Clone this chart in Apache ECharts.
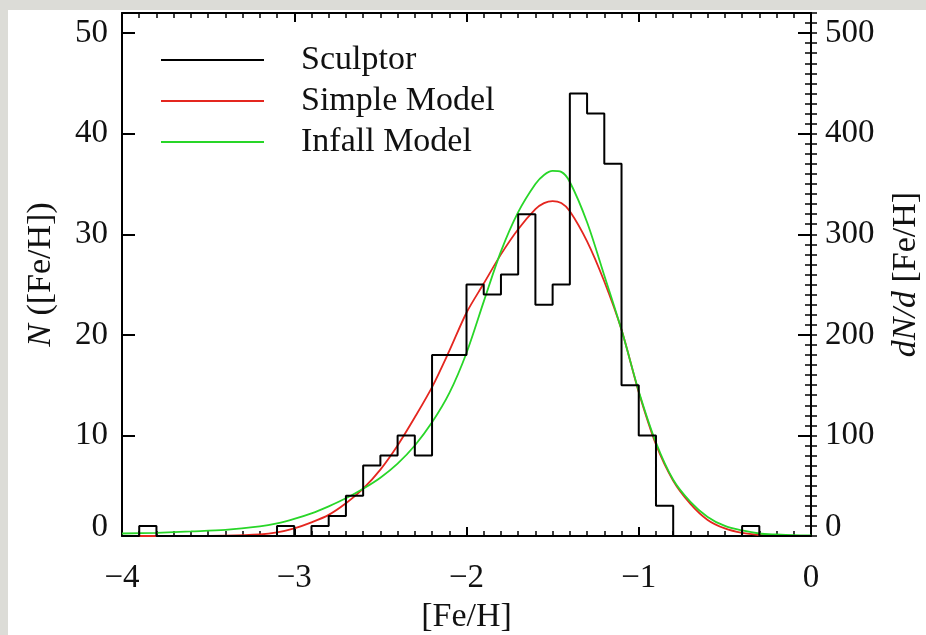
<!DOCTYPE html>
<html><head><meta charset="utf-8">
<script src="https://cdn.jsdelivr.net/npm/echarts@6/dist/echarts.min.js"></script>
<style>
html,body{margin:0;padding:0;background:#dcdcd7;overflow:hidden;}
#panel{position:absolute;left:8px;top:10px;width:918px;height:625px;background:#fff;}
#chart{position:absolute;left:0;top:0;width:926px;height:635px;}
</style></head><body>
<div id="panel"></div><div id="chart"></div>
<script>
// Histogram: left edges of the 0.1-dex bins, plus the closing edge at 0.0
const binLeft = [-4.0,-3.9,-3.8,-3.7,-3.6,-3.5,-3.4,-3.3,-3.2,-3.1,-3.0,-2.9,-2.8,-2.7,-2.6,-2.5,-2.4,-2.3,-2.2,-2.1,
                 -2.0,-1.9,-1.8,-1.7,-1.6,-1.5,-1.4,-1.3,-1.2,-1.1,-1.0,-0.9,-0.8,-0.7,-0.6,-0.5,-0.4,-0.3,-0.2,-0.1];
const closingEdge = 0.0;
const sculptorCounts = [0,1,0,0,0,0,0,0,0,1,0,1,2,4,7,8,10,8,18,18,
                        25,24,26,32,23,25,44,42,37,15,10,3,0,0,0,0,1,0,0,0];
// Model curves (in units of the left axis)
const modelFeH = [-4.0,-3.8,-3.6,-3.4,-3.2,-3.1,-3.0,-2.9,-2.8,-2.7,-2.6,-2.5,-2.4,-2.3,-2.2,-2.1,-2.0,-1.9,-1.8,-1.7,
                  -1.6,-1.55,-1.5,-1.45,-1.4,-1.3,-1.2,-1.1,-1.0,-0.9,-0.8,-0.7,-0.6,-0.5,-0.4,-0.3,-0.2,-0.1,0.0];
const simpleModel = [0.0,0.0,0.01,0.03,0.15,0.35,0.75,1.35,2.1,3.25,4.7,6.6,9.0,11.8,14.8,18.4,22.2,25.1,28.0,30.5,
                     32.5,33.1,33.3,33.1,32.3,29.3,25.3,20.5,14.3,9.1,5.5,3.2,1.6,0.75,0.3,0.1,0.03,0.01,0.0];
const infallModel = [0.25,0.32,0.45,0.6,0.95,1.25,1.7,2.25,2.95,3.75,4.7,5.8,7.2,9.0,11.3,14.2,18.2,23.3,28.3,32.2,
                     35.0,35.9,36.3,36.2,35.2,31.2,25.9,20.5,14.4,9.3,5.6,3.4,1.9,1.0,0.55,0.25,0.15,0.08,0.05];
const xTicks = [-4,-3,-2,-1,0];
const leftTicks = [0,10,20,30,40,50];
const rightTicks = [0,100,200,300,400,500];

const FONT = "'Liberation Serif','Times New Roman',serif";
const TXT = '#111';
const histData = binLeft.map((x,i)=>[x, sculptorCounts[i]]).concat([[closingEdge, 0]]);
const simpleData = modelFeH.map((x,i)=>[x, simpleModel[i]]);
const infallData = modelFeH.map((x,i)=>[x, infallModel[i]]);

const lineBlack = {color:'#000', width:2};
const zeroRich = {z:{fontFamily:FONT,fontSize:33,color:TXT,padding:[0,0,18,0]}};
function fmtY(list){ return v => { if(list.indexOf(v)<0) return ''; return v===0 ? '{z|0}' : String(v); }; }

const chart = echarts.init(document.getElementById('chart'), null, {renderer:'canvas'});
chart.setOption({
  animation:false,
  backgroundColor:'transparent',
  grid:{left:122, right:115, top:13, bottom:99, containLabel:false, outerBoundsMode:'none'},
  legend:{
    left:160, top:43, orient:'vertical', padding:0,
    itemWidth:103, itemHeight:14, itemGap:7,
    data:['Sculptor','Simple Model','Infall Model'],
    itemStyle:{color:'rgba(0,0,0,0)', borderColor:'rgba(0,0,0,0)', borderWidth:0},
    textStyle:{fontFamily:FONT, fontSize:34, color:TXT, lineHeight:34, padding:[0,0,0,32]}
  },
  xAxis:[
    {type:'value', min:-4, max:0, interval:1, position:'bottom',
     axisLine:{onZero:false, lineStyle:lineBlack},
     axisTick:{inside:true, length:9, lineStyle:lineBlack},
     minorTick:{show:true, splitNumber:10, length:5, lineStyle:{color:'#000', width:1.5}},
     splitLine:{show:false},
     axisLabel:{margin:26, fontFamily:FONT, fontSize:33, color:TXT,
       formatter:v=> xTicks.indexOf(v)<0 ? '' : (v<0 ? '\u2212'+Math.abs(v) : String(v))},
     name:'[Fe/H]', nameLocation:'middle', nameGap:61,
     nameTextStyle:{fontFamily:FONT, fontSize:34, color:TXT}},
    {type:'value', min:-4, max:0, interval:1, position:'top',
     axisLine:{onZero:false, lineStyle:lineBlack},
     axisTick:{inside:true, length:9, lineStyle:lineBlack},
     minorTick:{show:true, splitNumber:10, length:5, lineStyle:{color:'#000', width:1.5}},
     splitLine:{show:false}, axisLabel:{show:false}}
  ],
  yAxis:[
    {type:'value', min:0, max:52, interval:10, position:'left',
     axisLine:{show:true, onZero:false, lineStyle:lineBlack},
     axisTick:{inside:true, length:13, lineStyle:lineBlack},
     splitLine:{show:false},
     axisLabel:{margin:14, fontFamily:FONT, fontSize:33, color:TXT, formatter:fmtY(leftTicks), rich:zeroRich},
     name:'{i|N} ([Fe/H])', nameLocation:'middle', nameGap:64,
     nameTextStyle:{fontFamily:FONT, fontSize:34, color:TXT,
       rich:{i:{fontFamily:FONT, fontSize:34, fontStyle:'italic', color:TXT}}}},
    {type:'value', min:0, max:52, interval:1, position:'left',
     axisLine:{show:false}, axisTick:{inside:true, length:6, lineStyle:{color:'#000', width:1.5}},
     splitLine:{show:false}, axisLabel:{show:false}},
    {type:'value', min:0, max:520, interval:100, position:'right',
     axisLine:{show:true, onZero:false, lineStyle:lineBlack},
     axisTick:{inside:true, length:13, lineStyle:lineBlack},
     splitLine:{show:false},
     axisLabel:{margin:14, fontFamily:FONT, fontSize:33, color:TXT, formatter:fmtY(rightTicks), rich:zeroRich},
     name:'{i|dN/d} [Fe/H]', nameLocation:'middle', nameGap:78,
     nameTextStyle:{fontFamily:FONT, fontSize:34, color:TXT,
       rich:{i:{fontFamily:FONT, fontSize:34, fontStyle:'italic', color:TXT}}}},
    {type:'value', min:0, max:520, interval:10, position:'right',
     axisLine:{show:false}, axisTick:{inside:true, length:6, lineStyle:{color:'#000', width:1.5}},
     splitLine:{show:false}, axisLabel:{show:false}}
  ],
  series:[
    {name:'Simple Model', type:'line', xAxisIndex:0, yAxisIndex:0, data:simpleData,
     smooth:0.3, symbol:'none', lineStyle:{color:'#e4261f', width:1.8}, itemStyle:{color:'#e4261f'}},
    {name:'Infall Model', type:'line', xAxisIndex:0, yAxisIndex:0, data:infallData,
     smooth:0.3, symbol:'none', lineStyle:{color:'#28d628', width:1.8}, itemStyle:{color:'#28d628'}},
    {name:'Sculptor', type:'line', xAxisIndex:0, yAxisIndex:0, data:histData,
     step:'end', symbol:'none', lineStyle:{color:'#000', width:2}, itemStyle:{color:'#000'}}
  ]
});
</script>
</body></html>
